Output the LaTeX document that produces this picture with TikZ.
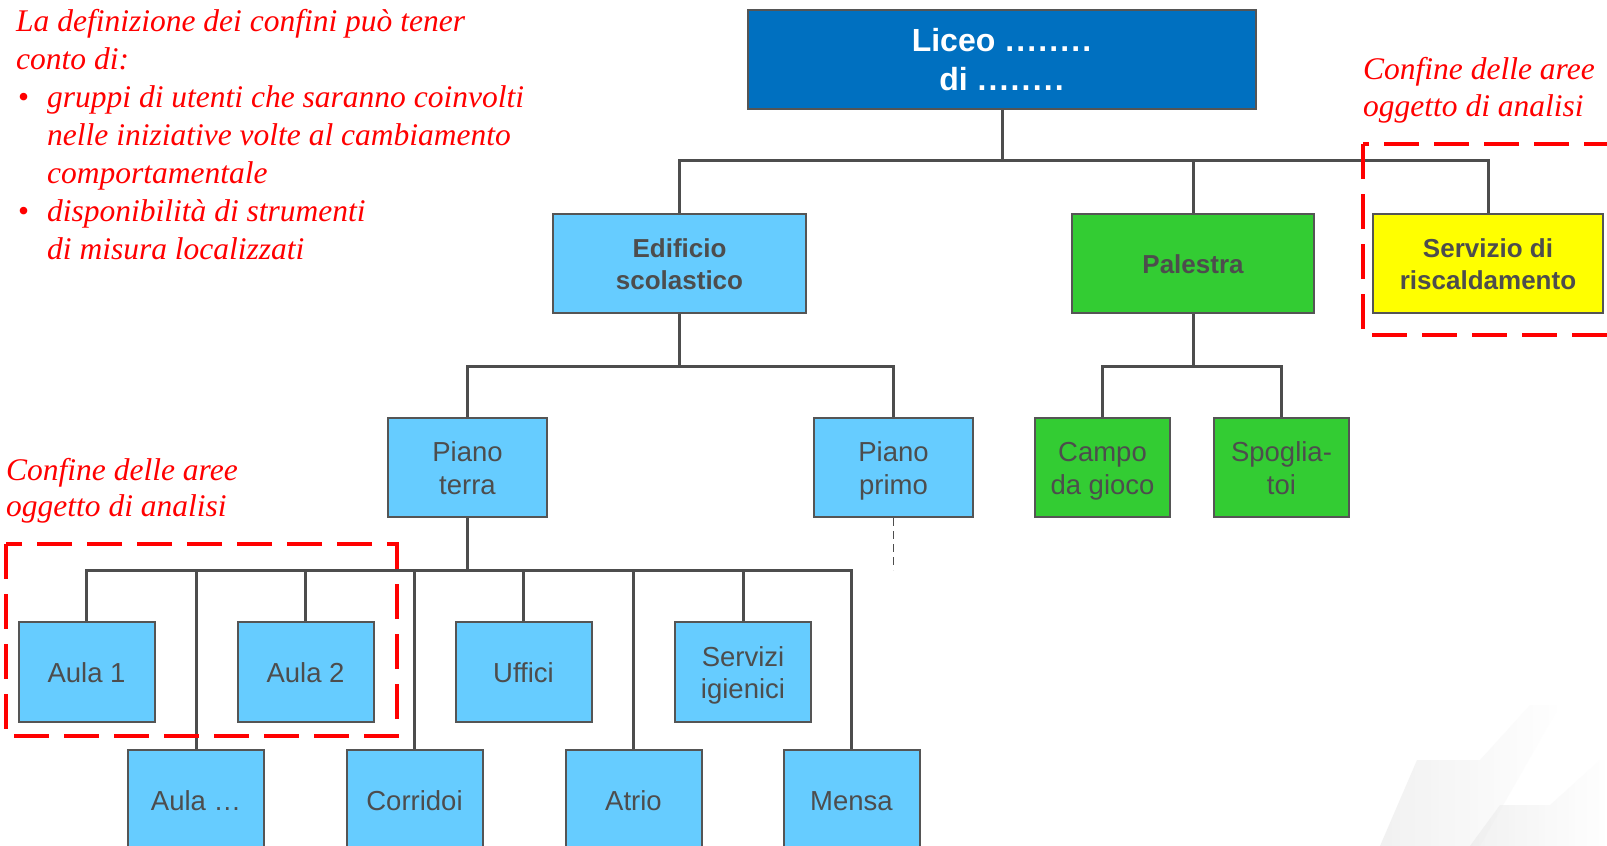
\documentclass[tikz,border=0pt]{standalone}
\usepackage{fontspec}
\setmainfont{Liberation Serif}
\setsansfont{Liberation Sans}
\definecolor{linegray}{HTML}{4D4D4D}
\definecolor{bordergray}{HTML}{555555}
\definecolor{txtgray}{HTML}{4D4D4D}
\definecolor{lightblue}{HTML}{66CCFF}
\definecolor{darkblue}{HTML}{0070C0}
\definecolor{boxgreen}{HTML}{33CC33}
\definecolor{boxyellow}{HTML}{FFFF00}
\definecolor{redtxt}{HTML}{FF0000}
\newcommand{\dotrow}{\makebox[11pt]{.}\makebox[11pt]{.}\makebox[11pt]{.}\makebox[11pt]{.}\makebox[11pt]{.}\makebox[11pt]{.}\makebox[11pt]{.}\makebox[11pt]{.}}
\newcommand{\topst}{\rule{0pt}{30.75pt}}
\newcommand{\botst}{\rule[-9.75pt]{0pt}{9.75pt}}
\begin{document}
\begin{tikzpicture}[x=1pt,y=-1pt,
  conn/.style={draw=linegray, line width=3pt},
  dotconn/.style={draw=linegray, line width=1.8pt, dash pattern=on 8pt off 5pt},
  box/.style={draw=bordergray, line width=2pt, rectangle, inner sep=0pt, align=center,
    text=txtgray, font=\sffamily\fontsize{27.5}{32.5}\selectfont, minimum height=99pt},
  boldbox/.style={box, font=\sffamily\bfseries\fontsize{26}{32.5}\selectfont},
  fillblue/.style={fill=lightblue},
  fillgreen/.style={fill=boxgreen},
  redlabel/.style={text=redtxt, font=\itshape\fontsize{31.5}{38}\selectfont, anchor=base west, inner sep=0pt},
  boundary/.style={draw=redtxt, line width=4.5pt, dash pattern=on 35pt off 15pt}
]
\useasboundingbox (0,0) rectangle (1607,846);
\fill[white] (0,0) rectangle (1607,846);
\clip (0,0) rectangle (1607,846);

% faint background decoration
\shade[left color=gray!18, right color=white, opacity=0.6] (1380,846) -- (1417,760) -- (1480,760) -- (1530,705) -- (1560,705) -- (1480,846) -- cycle;
\shade[left color=gray!18, right color=white, opacity=0.6] (1470,846) -- (1500,805) -- (1550,805) -- (1600,760) -- (1607,760) -- (1607,846) -- cycle;

% nodes
\node[box, fill=darkblue, text=white, font=\sffamily\bfseries\fontsize{32}{39}\selectfont,
      minimum width=508pt] (liceo) at (1002,59) {\rule{0pt}{35.3pt}Liceo \dotrow\\di \dotrow\rule[-11.7pt]{0pt}{11.7pt}};

\node[boldbox, fillblue, minimum width=253pt] (edificio) at (679.5,263) {\topst Edificio\\scolastico\botst};
\node[boldbox, fillgreen, minimum width=242pt] (palestra) at (1193,263) {\topst Palestra\botst};
\node[boldbox, fill=boxyellow, minimum width=230pt] (servizio) at (1488,263) {\topst Servizio di\\riscaldamento\botst};

\node[box, fillblue, minimum width=159pt] (pterra) at (467.5,467.5) {\topst Piano\\terra\botst};
\node[box, fillblue, minimum width=159pt] (pprimo) at (893.5,467.5) {\topst Piano\\primo\botst};
\node[box, fillgreen, minimum width=135pt] (campo) at (1102.5,467.5) {\topst Campo\\da gioco\botst};
\node[box, fillgreen, minimum width=135pt] (spoglia) at (1281.5,467.5) {\topst Spoglia-\\toi\botst};

\node[box, fillblue, minimum width=136pt, minimum height=100pt] (aula1) at (86.5,672) {\topst Aula 1\botst};
\node[box, fillblue, minimum width=136pt, minimum height=100pt] (aula2) at (305.5,672) {\topst Aula 2\botst};
\node[box, fillblue, minimum width=136pt, minimum height=100pt] (uffici) at (523.5,672) {\topst Uffici\botst};
\node[box, fillblue, minimum width=136pt, minimum height=100pt] (servizi) at (743,672) {\topst Servizi\\igienici\botst};

\node[box, fillblue, minimum width=136pt, minimum height=100pt] (auladots) at (196,800) {\topst Aula \dots\botst};
\node[box, fillblue, minimum width=136pt, minimum height=100pt] (corridoi) at (414.5,800) {\topst Corridoi\botst};
\node[box, fillblue, minimum width=136pt, minimum height=100pt] (atrio) at (633.5,800) {\topst Atrio\botst};
\node[box, fillblue, minimum width=136pt, minimum height=100pt] (mensa) at (851.5,800) {\topst Mensa\botst};

% bus levels
\coordinate (b1) at (0,160);
\coordinate (b2) at (0,366);
\coordinate (b3) at (0,570);

% connectors
\draw[conn] (liceo.south) -- (liceo.south |- b1);
\draw[conn] (edificio.north) -- (edificio.north |- b1) -| (servizio.north);
\draw[conn] (palestra.north) -- (palestra.north |- b1);

\draw[conn] (edificio.south) -- (edificio.south |- b2);
\draw[conn] (pterra.north) -- (pterra.north |- b2) -| (pprimo.north);
\draw[conn] (palestra.south) -- (palestra.south |- b2);
\draw[conn] (campo.north) -- (campo.north |- b2) -| (spoglia.north);

\draw[conn] (pterra.south) -- (pterra.south |- b3);
\draw[conn] (aula1.north) -- (aula1.north |- b3) -| (mensa.north);
\draw[conn] (aula2.north) -- (aula2.north |- b3);
\draw[conn] (uffici.north) -- (uffici.north |- b3);
\draw[conn] (servizi.north) -- (servizi.north |- b3);
\draw[conn] (auladots.north) -- (auladots.north |- b3);
\draw[conn] (corridoi.north) -- (corridoi.north |- b3);
\draw[conn] (atrio.north) -- (atrio.north |- b3);

\coordinate (ppend) at (pprimo.south |- b3);
\draw[dotconn] (pprimo.south) -- (ppend);

% boundaries
\draw[boundary] (6,544) rectangle (397,736);
\draw[boundary] (1363,144) rectangle (1650,335);

% texts
\node[redlabel] (t1) at (16,31) {La definizione dei confini può tener};
\node[redlabel] (t2) at (16,69) {conto di:};
\node[redlabel] (t3) at (18,107) {\makebox[29pt][l]{\upshape\textbullet}gruppi di utenti che saranno coinvolti};
\node[redlabel] (t4) at (47,145) {nelle iniziative volte al cambiamento};
\node[redlabel] (t5) at (47,183) {comportamentale};
\node[redlabel] (t6) at (18,221) {\makebox[29pt][l]{\upshape\textbullet}disponibilità di strumenti};
\node[redlabel] (t7) at (47,259) {di misura localizzati};

\node[redlabel] (r1) at (1363,79) {Confine delle aree};
\node[redlabel] (r2) at (1363,116) {oggetto di analisi};
\node[redlabel] (l1) at (6,480) {Confine delle aree};
\node[redlabel] (l2) at (6,516) {oggetto di analisi};
\end{tikzpicture}
\end{document}
